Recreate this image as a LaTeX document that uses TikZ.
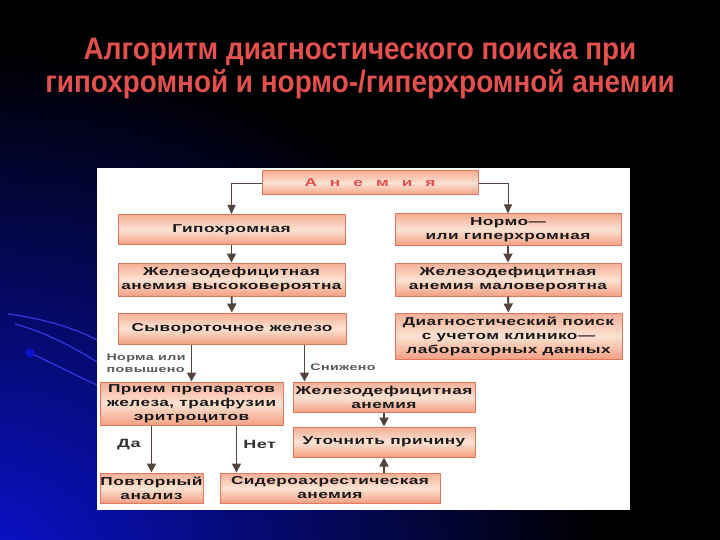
\documentclass[tikz,border=0pt]{standalone}
\usepackage{fontspec}
\setmainfont{Liberation Sans}
\newfontfamily\widefont[FakeStretch=1.5,LetterSpace=4]{Liberation Sans}
\newfontfamily\titlefont[FakeStretch=0.9]{Liberation Sans}
\usepackage{tikz}
\usetikzlibrary{arrows.meta,positioning,calc}
\definecolor{boxedge}{HTML}{E4785F}
\definecolor{boxfill}{HTML}{F2A083}
\definecolor{boxlight}{HTML}{FDE2D3}
\definecolor{linkgray}{HTML}{54423D}
\definecolor{titlered}{HTML}{E2504F}
\definecolor{slideblue}{HTML}{0A12D0}
\tikzset{
  block/.style={draw=boxedge,line width=1pt,top color=boxfill!85!white,bottom color=boxfill,
    middle color=boxlight,align=center,inner sep=0pt,text=black!90,
    font=\widefont\bfseries\fontsize{11.5}{14}\selectfont},
  arrow/.style={-{Triangle[length=9pt,width=9pt]},draw=linkgray,line width=1.9pt},
  thinarrow/.style={-{Triangle[length=9pt,width=8pt]},draw=linkgray,line width=0.9pt},
  labelstyle/.style={font=\widefont\bfseries\fontsize{9.5}{12}\selectfont,inner sep=0pt,text=black!65},
  answer/.style={font=\widefont\bfseries\fontsize{12}{14}\selectfont,inner sep=0pt,text=black!80}
}

\begin{document}
\begin{tikzpicture}[x=1pt,y=-1pt]
  \useasboundingbox (0,0) rectangle (720,540);
  % slide background
  \fill[black] (0,0) rectangle (720,540);
  \begin{scope}
    \clip (0,0) rectangle (720,540);
    \shade[inner color=slideblue,outer color=black] (-20,570) ellipse (620 and 520);
    \draw[slideblue!85,line width=1.3pt] (8,314) .. controls (40,318) and (75,328) .. (97,340);
    \draw[slideblue!85,line width=1.3pt] (15,324) .. controls (45,332) and (75,348) .. (97,362);
    \draw[slideblue!85,line width=1.3pt] (30,353) .. controls (50,362) and (75,375) .. (97,385);
    \fill[slideblue] (30,353) circle (4.5);
  \end{scope}
  \node[text=titlered,align=center,font=\titlefont\bfseries\fontsize{31}{33}\selectfont] (title) at (360,69)
    {Алгоритм диагностического поиска при\\гипохромной и нормо-/гиперхромной анемии};
  \fill[white] (97,168) rectangle (630,510);

  % boxes
  \node[block,minimum width=216,minimum height=24,text=titlered] (anem) at (370,183)
    {А\hspace{13pt}н\hspace{13pt}е\hspace{13pt}м\hspace{13pt}и\hspace{13pt}я};
  \node[block,minimum width=227,minimum height=30] (hypo) at (231.5,229.5) {Гипохромная};
  \node[block,minimum width=226,minimum height=31] (normo) at (508,229.5) {Нормо—\\или гиперхромная};
  \node[block,minimum width=227,minimum height=33] (ironhi) at (231.5,279.5) {Железодефицитная\\анемия высоковероятна};
  \node[block,minimum width=226,minimum height=33] (ironlo) at (508,279.5) {Железодефицитная\\анемия маловероятна};
  \node[block,minimum width=228,minimum height=31] (serum) at (232,328.5) {Сывороточное железо};
  \node[block,minimum width=227,minimum height=46] (search) at (508.5,336) {Диагностический поиск\\с учетом клинико—\\лабораторных данных};
  \node[block,minimum width=183,minimum height=43] (drugs) at (191.5,403.5) {Прием препаратов\\железа, транфузии\\эритроцитов};
  \node[block,minimum width=182,minimum height=30] (ida) at (384,397) {Железодефицитная\\анемия};
  \node[block,minimum width=182,minimum height=30] (cause) at (384,442) {Уточнить причину};
  \node[block,minimum width=103,minimum height=30] (repeat) at (151.5,488) {Повторный\\анализ};
  \node[block,minimum width=220,minimum height=30] (sidero) at (330,488) {Сидероахрестическая\\анемия};

  \coordinate (idain) at ($(ida.north west)+(12,0)$);
  \coordinate (sideroin) at ($(sidero.north west)+(17,0)$);

  % connectors
  \draw[thinarrow] (anem.west) -| (hypo.north);
  \draw[thinarrow] (anem.east) -| (normo.north);
  \draw[arrow] (hypo) -- (ironhi);
  \draw[arrow] (normo) -- (ironlo);
  \draw[arrow] (ironhi) -- (serum);
  \draw[arrow] (ironlo) -- (search);
  \draw[arrow] (serum.south -| drugs.north) -- node[pos=.5,left=5pt,labelstyle,align=left]{Норма или\\повышено} (drugs.north);
  \draw[arrow] (serum.south -| idain) -- node[pos=.62,right=5pt,labelstyle]{Снижено} (idain);
  \draw[arrow] (drugs.south -| repeat.north) -- node[pos=.4,left=10pt,answer]{Да} (repeat.north);
  \draw[arrow] (drugs.south -| sideroin) -- node[pos=.4,right=6pt,answer]{Нет} (sideroin);
  \draw[arrow] (ida) -- (cause);
  \draw[arrow] (sidero.north -| cause.south) -- (cause.south);
\end{tikzpicture}
\end{document}
